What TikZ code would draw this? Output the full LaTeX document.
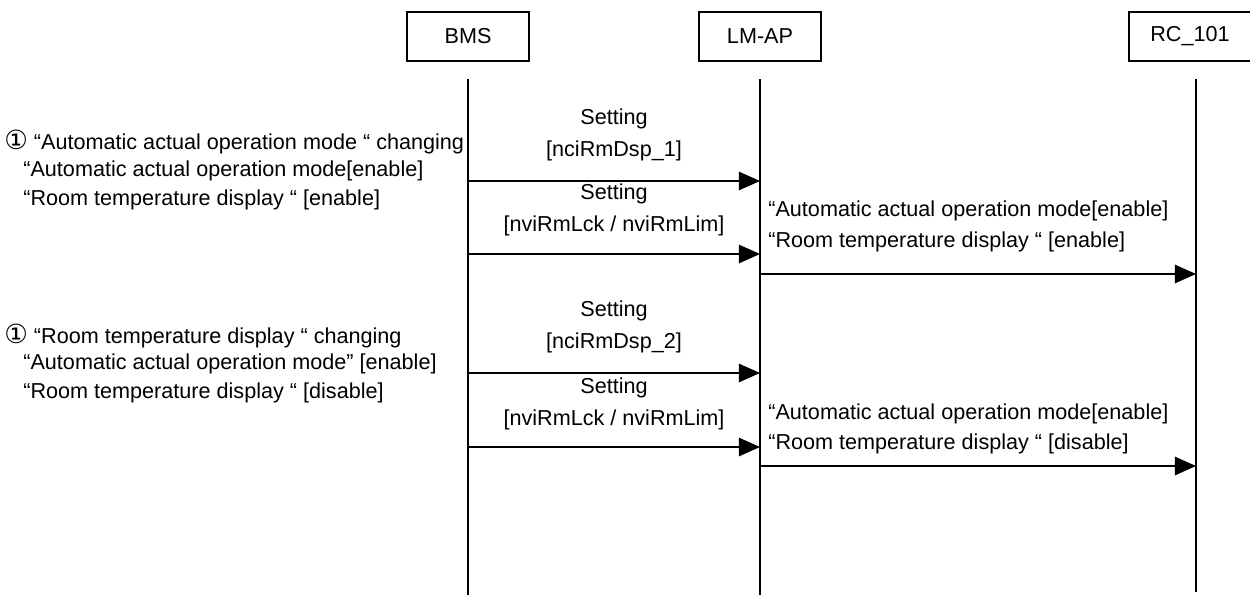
\documentclass[tikz,border=0pt]{standalone}
\usepackage{fontspec}
\setmainfont{Liberation Sans}
\newfontfamily\symfont{DejaVu Sans}
\usepackage{tikz}
\usetikzlibrary{arrows.meta, positioning, calc}

\newcommand{\circone}{{\symfont\fontsize{15pt}{15pt}\selectfont ①}}

\begin{document}
\begin{tikzpicture}[
    x=0.02cm, y=-0.02cm,
    font=\fontsize{12.3pt}{18pt}\selectfont,
    actor/.style={draw, rectangle, line width=0.7pt, minimum width=122*0.02cm, minimum height=49*0.02cm, inner sep=0pt},
    life/.style={line width=0.75pt},
    msg/.style={line width=0.75pt, -{Triangle[length=12pt, width=10.5pt]}},
    label/.style={align=center, inner sep=0pt},
    note/.style={anchor=west, inner sep=0pt}
]
\useasboundingbox (0,0) rectangle (1250,595);

% Actors
\node (bms) [actor] at (468,36.5) {BMS};
\node (lmap) [actor] at (760,36.5) {LM-AP};
\node (rc) [actor] at (1190,36.5) {RC\_101};

% Lifelines
\coordinate (bmstop) at (468,79);   \coordinate (bmsbot) at (468,595);
\coordinate (lmaptop) at (760,79);  \coordinate (lmapbot) at (760,595);
\coordinate (rctop) at (1196,79);   \coordinate (rcbot) at (1196,592);
\draw [life] (bmstop) -- (bmsbot);
\draw [life] (lmaptop) -- (lmapbot);
\draw [life] (rctop) -- (rcbot);

% First change
\node (chg1) [note] at (4,142) {\circone\ “Automatic actual operation mode “ changing};
\node (chg1a) [note] at (23,171) {“Automatic actual operation mode[enable]};
\node (chg1b) [note] at (23,200) {“Room temperature display “ [enable]};

\coordinate (m1a) at (bmstop |- 0,181);  \coordinate (m1b) at (lmaptop |- 0,181);
\coordinate (m2a) at (bmstop |- 0,254);  \coordinate (m2b) at (lmaptop |- 0,254);
\coordinate (m3a) at (lmaptop |- 0,274); \coordinate (m3b) at (rctop |- 0,274);
\draw [msg] (m1a) -- (m1b);
\draw [msg] (m2a) -- (m2b);
\draw [msg] (m3a) -- (m3b);
\node (s1) [label] at (614,135) {Setting\\{[nciRmDsp\_1]}};
\node (s2) [label] at (614,210) {Setting\\{[nviRmLck / nviRmLim]}};
\node (r1) [note] at (768,211) {“Automatic actual operation mode[enable]};
\node (r1b) [note] at (768,242) {“Room temperature display “ [enable]};

% Second change
\node (chg2) [note] at (4,336) {\circone\ “Room temperature display “ changing};
\node (chg2a) [note] at (23,364) {“Automatic actual operation mode” [enable]};
\node (chg2b) [note] at (23,393) {“Room temperature display “ [disable]};

\coordinate (m4a) at (bmstop |- 0,373);  \coordinate (m4b) at (lmaptop |- 0,373);
\coordinate (m5a) at (bmstop |- 0,447);  \coordinate (m5b) at (lmaptop |- 0,447);
\coordinate (m6a) at (lmaptop |- 0,466); \coordinate (m6b) at (rctop |- 0,466);
\draw [msg] (m4a) -- (m4b);
\draw [msg] (m5a) -- (m5b);
\draw [msg] (m6a) -- (m6b);
\node (s3) [label] at (614,327) {Setting\\{[nciRmDsp\_2]}};
\node (s4) [label] at (614,404) {Setting\\{[nviRmLck / nviRmLim]}};
\node (r2) [note] at (768,414) {“Automatic actual operation mode[enable]};
\node (r2b) [note] at (768,444) {“Room temperature display “ [disable]};

\end{tikzpicture}
\end{document}
